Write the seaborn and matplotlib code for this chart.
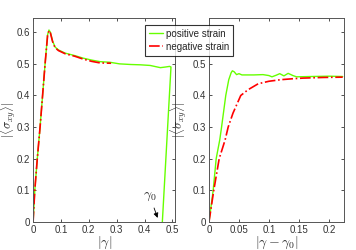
import numpy as np
import pandas as pd
import matplotlib
matplotlib.use("Agg")
import matplotlib.pyplot as plt
import seaborn as sns

# left panel: |gamma| vs |<sigma_xy>|
pos_gamma = [0, 0.006, 0.015, 0.025, 0.034, 0.043, 0.052, 0.057, 0.062, 0.07, 0.079,
             0.091, 0.115, 0.15, 0.18, 0.21, 0.24, 0.276, 0.31, 0.35, 0.385, 0.42,
             0.457, 0.475, 0.49, 0.495, 0.464]
pos_stress = [0, 0.1, 0.2, 0.3, 0.4, 0.5, 0.592, 0.607, 0.6, 0.572, 0.553,
              0.544, 0.534, 0.526, 0.518, 0.512, 0.507, 0.505, 0.5, 0.498, 0.497, 0.495,
              0.488, 0.49, 0.492, 0.49, 0]
neg_gamma = [0, 0.006, 0.015, 0.025, 0.034, 0.043, 0.052, 0.057, 0.062, 0.07, 0.079,
             0.091, 0.115, 0.15, 0.18, 0.21, 0.24, 0.28]
neg_stress = [0, 0.1, 0.2, 0.3, 0.4, 0.5, 0.59, 0.605, 0.598, 0.57, 0.551,
              0.542, 0.532, 0.524, 0.515, 0.508, 0.503, 0.502]

# right panel: |gamma - gamma0| vs |<sigma_xy>|
pos_dgamma = [0, 0.007, 0.012, 0.018, 0.021, 0.028, 0.033, 0.037, 0.039, 0.042, 0.046,
              0.05, 0.055, 0.075, 0.09, 0.1, 0.105, 0.112, 0.118, 0.125, 0.132, 0.14,
              0.146, 0.17, 0.2, 0.223]
pos_dstress = [0, 0.1, 0.2, 0.26, 0.3, 0.4, 0.45, 0.472, 0.478, 0.475, 0.466,
               0.469, 0.465, 0.465, 0.466, 0.463, 0.459, 0.464, 0.469, 0.462, 0.47, 0.463,
               0.459, 0.46, 0.461, 0.46]
neg_dgamma = [0, 0.008, 0.017, 0.027, 0.032, 0.04, 0.053, 0.065, 0.082, 0.1, 0.12,
              0.14, 0.157, 0.19, 0.223]
neg_dstress = [0, 0.1, 0.2, 0.26, 0.3, 0.344, 0.4, 0.418, 0.437, 0.445, 0.45,
               0.453, 0.455, 0.457, 0.458]

green = "#66ff00"
red = "#ff0000"

sns.set_style("ticks")
plt.rcParams["font.family"] = ["Liberation Sans", "DejaVu Sans"]
plt.rcParams["mathtext.fontset"] = "cm"

fig = plt.figure(figsize=(3.56, 2.5), dpi=100)
ax1 = fig.add_axes([0.093, 0.112, 0.399, 0.816])
ax2 = fig.add_axes([0.587, 0.112, 0.379, 0.816])

sns.lineplot(x=pos_gamma, y=pos_stress, ax=ax1, color=green, lw=1.0, sort=False,
             label="positive strain")
sns.lineplot(x=neg_gamma, y=neg_stress, ax=ax1, color=red, lw=1.2, sort=False,
             linestyle="-.", label="negative strain")
sns.lineplot(x=pos_dgamma, y=pos_dstress, ax=ax2, color=green, lw=1.0, sort=False)
sns.lineplot(x=neg_dgamma, y=neg_dstress, ax=ax2, color=red, lw=1.2, sort=False,
             linestyle="-.")

ax1.set_xlim(0, 0.51)
ax2.set_xlim(0, 0.225)
ax1.set_xticks([0, 0.1, 0.2, 0.3, 0.4, 0.5])
ax1.set_xticklabels(["0", "0.1", "0.2", "0.3", "0.4", "0.5"])
ax2.set_xticks([0, 0.05, 0.1, 0.15, 0.2])
ax2.set_xticklabels(["0", "0.05", "0.1", "0.15", "0.2"])
yt = [0, 0.1, 0.2, 0.3, 0.4, 0.5, 0.6]
ax1.set_yticks(yt)
ax1.set_yticklabels(["0", "0.1", "0.2", "0.3", "0.4", "0.5", "0.6"])
# right panel's 0.6 label sits under the legend
ax2.set_yticks(yt)
ax2.set_yticklabels(["0", "0.1", "0.2", "0.3", "0.4", "0.5", ""])
for ax in (ax1, ax2):
    ax.set_ylim(0, 0.645)
    ax.tick_params(direction="in", top=True, right=True, labelsize=7, length=2.5,
                   width=0.6, colors="#333333", pad=2)
    for s in ax.spines.values():
        s.set_color("#555555")
        s.set_linewidth(0.7)
    ax.set_ylabel(r"$|\langle\sigma_{xy}\rangle|$", fontsize=9)

ax1.yaxis.set_label_coords(-0.106, 0.5)
ax2.yaxis.set_label_coords(-0.15, 0.5)
ax1.set_xlabel(r"$|\gamma|$", fontsize=10, labelpad=0)
ax2.set_xlabel(r"$|\gamma-\gamma_0|$", fontsize=10, labelpad=0)

ax1.annotate(r"$\gamma_0$", xy=(0.447, 0.013), xytext=(0.395, 0.075), fontsize=10,
             arrowprops=dict(arrowstyle="-|>", color="k", lw=0.6, mutation_scale=7,
                             shrinkA=1, shrinkB=0))

handles, labels = ax1.get_legend_handles_labels()
ax1.get_legend().remove()
leg = fig.legend(handles, labels, loc="upper left", bbox_to_anchor=(0.407, 0.9),
                 borderaxespad=0, fontsize=7, frameon=True, fancybox=False,
                 handlelength=1.5, borderpad=0.4, labelspacing=0.3, handletextpad=0.3)
leg.get_frame().set_edgecolor("black")
leg.get_frame().set_linewidth(0.8)
leg.set_zorder(10)

fig.savefig("out.png", dpi=100)
